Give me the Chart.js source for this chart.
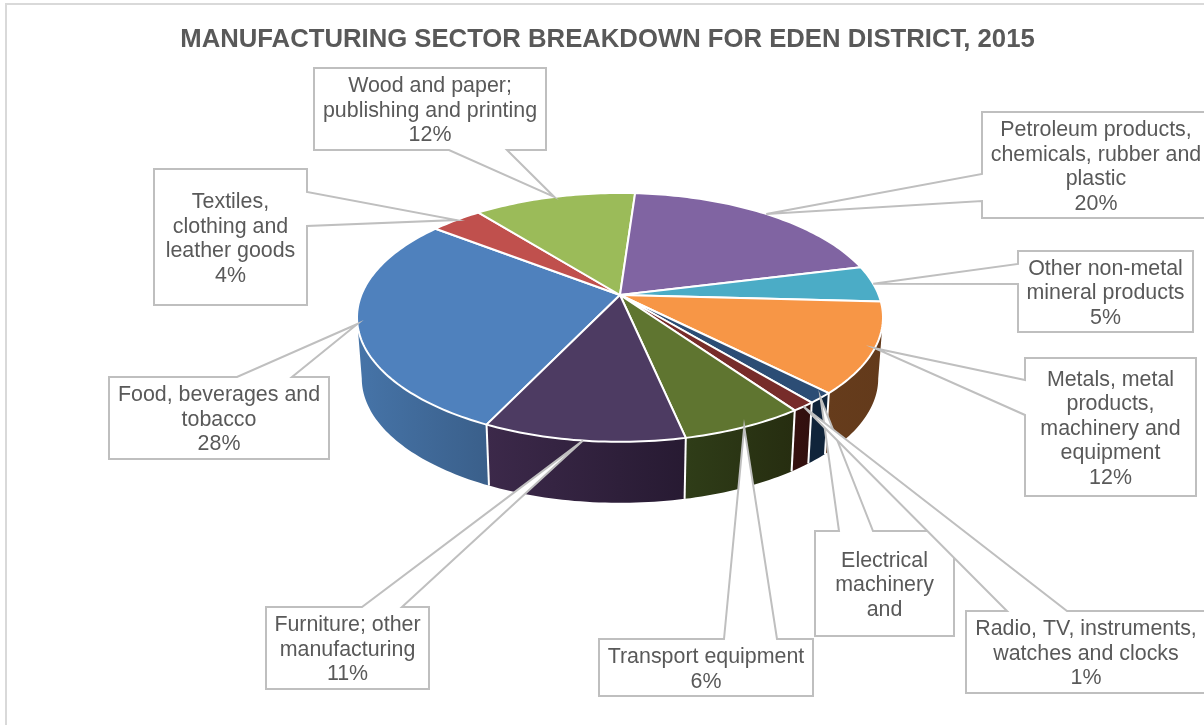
<!DOCTYPE html>
<html>
<head>
<meta charset="utf-8">
<title>Manufacturing sector breakdown</title>
<script src="https://cdn.jsdelivr.net/npm/chart.js@4"></script>
<style>
  html, body { margin: 0; padding: 0; background: #fff; }
  canvas { display: block; }
</style>
</head>
<body>
<canvas id="chart" width="1204" height="725"></canvas>
<script>
const chartTitle = "MANUFACTURING SECTOR BREAKDOWN FOR EDEN DISTRICT, 2015";
const categories = [
  "Food, beverages and tobacco", "Textiles, clothing and leather goods",
  "Wood and paper; publishing and printing", "Petroleum products, chemicals, rubber and plastic",
  "Other non-metal mineral products", "Metals, metal products, machinery and equipment",
  "Electrical machinery and", "Radio, TV, instruments, watches and clocks",
  "Transport equipment", "Furniture; other manufacturing"
];
// slice shares, the printed labels are rounded
const shares = [28.3, 3.8, 11.8, 20, 4.7, 11.7, 1.4, 1.25, 6.4, 10.45];
const printedPercent = ["28%", "4%", "12%", "20%", "5%", "12%", "", "1%", "6%", "11%"];
const labelLines = [
  ["Food, beverages and", "tobacco"],
  ["Textiles,", "clothing and", "leather goods"],
  ["Wood and paper;", "publishing and printing"],
  ["Petroleum products,", "chemicals, rubber and", "plastic"],
  ["Other non-metal", "mineral products"],
  ["Metals, metal", "products,", "machinery and", "equipment"],
  ["Electrical", "machinery", "and"],
  ["Radio, TV, instruments,", "watches and clocks"],
  ["Transport equipment"],
  ["Furniture; other", "manufacturing"]
];
const topColors = ["#4f81bd", "#c0504d", "#9bbb59", "#8064a2", "#4bacc6", "#f79646", "#2c4d75", "#772c2a", "#5f7530", "#4d3b62"];
const wallLeft = ["#4674a8", "#7a3230", "#62763a", "#513f67", "#2f6d7e", "#663c1c", "#10243a", "#36110f", "#2f3d18", "#3c294a"];
const wallRight = ["#3a5f8a", "#7a3230", "#62763a", "#513f67", "#2f6d7e", "#633a1b", "#10243a", "#30100e", "#262d10", "#271a32"];

// callout boxes: box rect, which edge the wedge leaves from, and the two anchors on that edge
const callouts = [
  { x0: 109, y0: 377, x1: 329, y1: 459, edge: "top", a: 237, b: 292 },
  { x0: 154, y0: 169, x1: 307, y1: 305, edge: "right", a: 192, b: 226 },
  { x0: 314, y0: 68, x1: 546, y1: 150, edge: "bottom", a: 449, b: 507 },
  { x0: 982, y0: 112, x1: 1210, y1: 218, edge: "left", a: 174, b: 201 },
  { x0: 1018, y0: 251, x1: 1193, y1: 332, edge: "left", a: 264, b: 284 },
  { x0: 1025, y0: 358, x1: 1196, y1: 496, edge: "left", a: 380, b: 415 },
  { x0: 815, y0: 531, x1: 954, y1: 636, edge: "top", a: 839, b: 873 },
  { x0: 966, y0: 611, x1: 1206, y1: 693, edge: "top", a: 1007, b: 1067 },
  { x0: 599, y0: 639, x1: 813, y1: 696, edge: "top", a: 724, b: 777 },
  { x0: 266, y0: 607, x1: 429, y1: 689, edge: "top", a: 362, b: 402 }
];

const fontFamily = "'Liberation Sans', Arial, sans-serif";
const textColor = "#595959";
const calloutLine = "#bfbfbf";

// the disc is seen in perspective, so circle angles go through a small projection
const apexX = 620, apexY = 295, persp = 0.18, discB = 120.4;
const topA = 258.7, bottomA = 254, depth = 61;
const sideMin = 100.4 * Math.PI / 180, sideMax = 259.6 * Math.PI / 180;
const fullTurn = 2 * Math.PI;

function project(theta, a, dy) {
  const u = Math.sin(theta), v = -Math.cos(theta), w = 1 - persp * v;
  return { x: apexX + a * u / w, y: apexY + dy + discB * v / w };
}
function rimPoints(from, to, a, dy) {
  const n = Math.max(2, Math.ceil(Math.abs(to - from) / 0.02));
  const pts = [];
  for (let i = 0; i <= n; i++) pts.push(project(from + (to - from) * i / n, a, dy));
  return pts;
}
function thetaOf(angle) {
  return angle + Math.PI / 2; // chart.js arcs start at 3 o'clock, theta starts at the top
}
function tracePath(ctx, pts) {
  ctx.beginPath();
  pts.forEach((p, i) => (i ? ctx.lineTo(p.x, p.y) : ctx.moveTo(p.x, p.y)));
  ctx.closePath();
}

function drawWalls(ctx, arcs) {
  arcs.forEach((arc, i) => {
    // angles keep growing past a full turn, bring them back before clamping
    let start = thetaOf(arc.startAngle), end = thetaOf(arc.endAngle);
    while (start >= fullTurn) { start -= fullTurn; end -= fullTurn; }
    const from = Math.max(start, sideMin);
    const to = Math.min(end, sideMax);
    if (to <= from) return;
    const upper = rimPoints(from, to, topA, 0);
    const lower = rimPoints(to, from, bottomA, depth);
    const xs = upper.concat(lower).map((p) => p.x);
    const grad = ctx.createLinearGradient(Math.min(...xs), 0, Math.max(...xs), 0);
    grad.addColorStop(0, wallLeft[i]);
    grad.addColorStop(1, wallRight[i]);
    tracePath(ctx, upper.concat(lower));
    ctx.fillStyle = grad;
    ctx.fill();
  });
  // white seams between the walls
  ctx.strokeStyle = "#fff";
  ctx.lineWidth = 2;
  arcs.forEach((arc) => {
    const t = thetaOf(arc.endAngle) % fullTurn;
    if (t <= sideMin || t >= sideMax) return;
    const p = project(t, topA, 0), q = project(t, bottomA, depth);
    ctx.beginPath();
    ctx.moveTo(p.x, p.y);
    ctx.lineTo(q.x, q.y);
    ctx.stroke();
  });
}

function drawTop(ctx, arcs) {
  arcs.forEach((arc, i) => {
    const pts = [{ x: apexX, y: apexY }].concat(rimPoints(thetaOf(arc.startAngle), thetaOf(arc.endAngle), topA, 0));
    tracePath(ctx, pts);
    ctx.fillStyle = topColors[i];
    ctx.fill();
    ctx.strokeStyle = "#fff";
    ctx.lineWidth = 2;
    ctx.lineJoin = "round";
    ctx.stroke();
  });
}

function drawCallout(ctx, arc, i) {
  const c = callouts[i];
  const tip = project((thetaOf(arc.startAngle) + thetaOf(arc.endAngle)) / 2, topA, 0);
  let pts;
  if (c.edge === "top") {
    pts = [{ x: c.x0, y: c.y0 }, { x: c.a, y: c.y0 }, tip, { x: c.b, y: c.y0 }, { x: c.x1, y: c.y0 }, { x: c.x1, y: c.y1 }, { x: c.x0, y: c.y1 }];
  } else if (c.edge === "bottom") {
    pts = [{ x: c.x0, y: c.y0 }, { x: c.x1, y: c.y0 }, { x: c.x1, y: c.y1 }, { x: c.b, y: c.y1 }, tip, { x: c.a, y: c.y1 }, { x: c.x0, y: c.y1 }];
  } else if (c.edge === "left") {
    pts = [{ x: c.x0, y: c.y0 }, { x: c.x1, y: c.y0 }, { x: c.x1, y: c.y1 }, { x: c.x0, y: c.y1 }, { x: c.x0, y: c.b }, tip, { x: c.x0, y: c.a }];
  } else {
    pts = [{ x: c.x0, y: c.y0 }, { x: c.x1, y: c.y0 }, { x: c.x1, y: c.a }, tip, { x: c.x1, y: c.b }, { x: c.x1, y: c.y1 }, { x: c.x0, y: c.y1 }];
  }
  tracePath(ctx, pts);
  ctx.fillStyle = "#fff";
  ctx.fill();
  ctx.strokeStyle = calloutLine;
  ctx.lineWidth = 2;
  ctx.lineJoin = "miter";
  ctx.stroke();

  const lines = printedPercent[i] ? labelLines[i].concat(printedPercent[i]) : labelLines[i];
  const lineH = 24.6;
  const midX = (c.x0 + c.x1) / 2, midY = (c.y0 + c.y1) / 2;
  ctx.fillStyle = textColor;
  ctx.font = "21.4px " + fontFamily;
  ctx.textAlign = "center";
  ctx.textBaseline = "middle";
  lines.forEach((line, k) => {
    ctx.fillText(line, midX, midY + (k - (lines.length - 1) / 2) * lineH + 2);
  });
}

const pie3d = {
  id: "pie3d",
  beforeDatasetsDraw(chart) {
    const ctx = chart.ctx;
    const arcs = chart.getDatasetMeta(0).data;
    ctx.save();
    // outer frame of the chart area
    ctx.strokeStyle = "#d9d9d9";
    ctx.lineWidth = 2;
    ctx.strokeRect(6, 4, 1210, 730);
    drawWalls(ctx, arcs);
    drawTop(ctx, arcs);
    arcs.forEach((arc, i) => drawCallout(ctx, arc, i));
    ctx.restore();
    return false; // slices are painted above, skip the flat pie
  }
};

new Chart(document.getElementById("chart"), {
  type: "pie",
  data: {
    labels: categories,
    datasets: [{ data: shares, backgroundColor: topColors, borderColor: "#fff" }]
  },
  options: {
    responsive: false,
    animation: false,
    rotation: 205.6,
    layout: { padding: { left: 11 } },
    plugins: {
      legend: { display: false },
      tooltip: { enabled: false },
      title: {
        display: true,
        text: chartTitle,
        color: textColor,
        font: { family: fontFamily, size: 25.7, weight: "bold" },
        padding: { top: 24, bottom: 10 }
      }
    }
  },
  plugins: [pie3d]
});
</script>
</body>
</html>
